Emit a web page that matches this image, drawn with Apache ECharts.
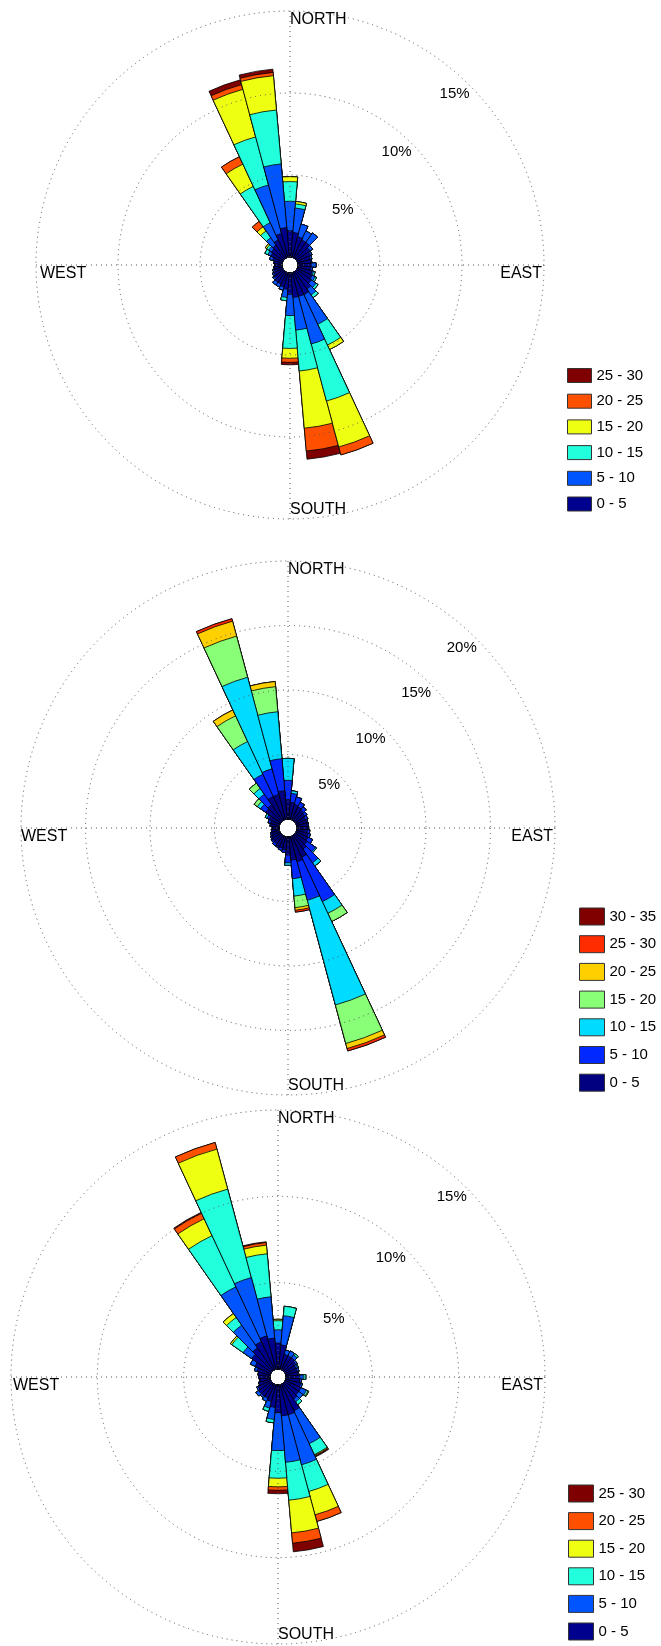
<!DOCTYPE html>
<html><head><meta charset="utf-8">
<script src="https://cdn.jsdelivr.net/npm/echarts@6/dist/echarts.min.js"></script>
<style>html,body{margin:0;padding:0;background:#fff}#c{width:661px;height:1646px}</style>
</head><body><div id="c"></div>
<script>
// Wind direction sectors (bearing, degrees clockwise from north)
const directions = ['0','10','20','30','40','50','60','70','80','90','100','110','120','130','140','150','160','170',
  '180','190','200','210','220','230','240','250','260','270','280','290','300','310','320','330','340','350'];

// ---- Rose 1: cumulative frequency (%) up to the top of each speed bin ----
const rose1Bins = ['0 - 5','5 - 10','10 - 15','15 - 20','20 - 25','25 - 30'];
const r1_0_5   = [1.6,1.5,1.3,1.2,1.2,1.0,0.9,0.8,0.8,0.8,0.8,0.9,1.0,1.1,1.3,1.5,1.5,1.5,1.3,1.0,0.9,0.8,0.8,0.7,0.6,0.5,0.5,0.45,0.5,0.6,0.8,0.9,1.0,1.2,1.5,1.8];
const r1_5_10  = [3.4,3.0,2.1,1.8,1.9,1.2,1.0,0.9,0.85,1.1,0.9,1.0,1.2,1.45,1.75,3.5,4.5,3.5,2.6,1.5,1.1,1.0,1.0,0.8,0.7,0.6,0.5,0.45,0.5,0.8,1.0,1.1,1.55,2.36,4.57,5.7];
const r1_10_15 = [4.6,3.25,2.1,1.8,1.9,1.2,1.0,0.9,0.85,1.1,0.9,1.1,1.3,1.6,1.95,4.9,8.1,6.0,4.6,1.7,1.1,1.0,1.0,0.8,0.7,0.6,0.5,0.45,0.5,0.8,1.2,1.25,2.05,4.8,7.6,9.0];
const r1_15_20 = [4.9,3.4,2.1,1.8,1.9,1.2,1.0,0.9,0.85,1.1,0.9,1.1,1.3,1.6,1.95,5.2,11.0,9.5,5.2,1.7,1.1,1.0,1.0,0.8,0.7,0.6,0.5,0.45,0.5,0.8,1.2,1.35,2.36,6.3,10.6,11.1];
const r1_20_25 = [4.9,3.4,2.1,1.8,1.9,1.2,1.0,0.9,0.85,1.1,0.9,1.1,1.3,1.6,1.95,5.2,11.5,10.9,5.45,1.7,1.1,1.0,1.0,0.8,0.7,0.6,0.5,0.45,0.5,0.8,1.2,1.35,2.77,6.8,10.9,11.3];
const r1_25_30 = [4.9,3.4,2.1,1.8,1.9,1.2,1.0,0.9,0.85,1.1,0.9,1.1,1.3,1.6,1.95,5.2,11.5,11.4,5.6,1.7,1.1,1.0,1.0,0.8,0.7,0.6,0.5,0.45,0.5,0.8,1.2,1.35,2.77,6.8,11.2,11.5];
const rose1Ticks = [5,10,15];

// ---- Rose 2 ----
const rose2Bins = ['0 - 5','5 - 10','10 - 15','15 - 20','20 - 25','25 - 30','30 - 35'];
const r2_0_5   = [1.5,1.3,1.2,1.1,1.0,0.9,0.8,0.8,0.8,0.8,0.8,0.9,1.0,1.1,1.3,1.8,2.0,1.8,1.4,1.0,0.9,0.9,0.8,0.8,0.7,0.6,0.5,0.5,0.6,0.7,0.9,1.4,1.5,2.0,2.0,2.2];
const r2_5_10  = [3.0,2.0,1.8,1.5,1.3,1.1,1.0,0.9,0.9,0.9,1.0,1.1,1.4,1.9,2.6,5.6,5.1,3.25,2.0,1.2,1.1,1.0,1.0,0.9,0.8,0.7,0.6,0.55,0.7,0.9,1.1,1.9,2.5,3.9,4.05,4.7];
const r2_10_15 = [4.7,2.2,1.8,1.5,1.3,1.1,1.0,0.9,0.9,0.9,1.0,1.1,1.4,2.0,2.9,6.6,13.5,4.6,2.2,1.2,1.1,1.0,1.0,0.9,0.8,0.7,0.6,0.55,0.7,0.9,1.25,2.2,3.05,6.7,11.4,8.35];
const r2_15_20 = [4.7,2.2,1.8,1.5,1.3,1.1,1.0,0.9,0.9,0.9,1.0,1.1,1.4,2.0,2.9,7.3,16.6,5.5,2.2,1.2,1.1,1.0,1.0,0.9,0.8,0.7,0.6,0.55,0.7,0.9,1.25,2.5,3.55,8.9,14.7,10.3];
const r2_20_25 = [4.7,2.2,1.8,1.5,1.3,1.1,1.0,0.9,0.9,0.9,1.0,1.1,1.4,2.0,2.9,7.3,17.0,5.7,2.2,1.2,1.1,1.0,1.0,0.9,0.8,0.7,0.6,0.55,0.7,0.9,1.25,2.5,3.55,9.4,15.9,10.7];
const r2_25_30 = [4.7,2.2,1.8,1.5,1.3,1.1,1.0,0.9,0.9,0.9,1.0,1.1,1.4,2.0,2.9,7.3,17.2,5.85,2.2,1.2,1.1,1.0,1.0,0.9,0.8,0.7,0.6,0.55,0.7,0.9,1.25,2.5,3.55,9.4,16.1,10.7];
const r2_30_35 = [4.7,2.2,1.8,1.5,1.3,1.1,1.0,0.9,0.9,0.9,1.0,1.1,1.4,2.0,2.9,7.3,17.2,5.85,2.2,1.2,1.1,1.0,1.0,0.9,0.8,0.7,0.6,0.55,0.7,0.9,1.25,2.5,3.55,9.4,16.1,10.7];
const rose2Ticks = [5,10,15,20];

// ---- Rose 3 ----
const rose3Bins = ['0 - 5','5 - 10','10 - 15','15 - 20','20 - 25','25 - 30'];
const r3_0_5   = [1.5,1.4,0.9,0.9,0.9,0.8,0.7,0.7,0.7,0.8,0.8,0.9,1.0,1.0,1.1,1.7,1.8,1.8,1.6,1.3,1.0,0.9,0.9,0.9,0.8,0.7,0.6,0.65,0.7,0.8,1.0,1.4,1.6,1.8,2.0,1.8];
const r3_5_10  = [2.27,3.1,1.16,1.2,1.1,0.9,0.8,0.8,0.75,1.0,0.9,1.0,1.35,1.3,1.3,3.8,4.8,4.5,3.8,2.0,1.4,1.1,1.0,1.1,0.9,0.7,0.6,0.65,0.7,0.95,1.3,2.0,3.2,5.3,5.5,4.2];
const r3_10_15 = [2.8,3.65,1.16,1.2,1.2,0.9,0.85,0.8,0.75,1.15,0.9,1.0,1.45,1.3,1.5,4.5,6.4,6.7,5.4,2.2,1.6,1.1,1.0,1.1,0.9,0.7,0.6,0.65,0.7,0.95,1.3,2.8,3.75,8.57,10.8,6.7];
const r3_15_20 = [2.88,3.65,1.16,1.2,1.2,0.9,0.85,0.8,0.75,1.15,0.9,1.0,1.5,1.3,1.5,4.55,7.8,8.6,5.9,2.2,1.6,1.1,1.0,1.1,0.9,0.7,0.6,0.65,0.7,0.95,1.3,2.9,4.03,9.65,13.2,7.2];
const r3_20_25 = [2.88,3.65,1.16,1.2,1.2,0.9,0.85,0.8,0.75,1.15,0.9,1.0,1.5,1.3,1.5,4.6,8.2,9.2,6.1,2.2,1.6,1.1,1.0,1.1,0.9,0.7,0.6,0.65,0.7,0.95,1.3,2.9,4.03,10.0,13.6,7.35];
const r3_25_30 = [2.88,3.65,1.16,1.2,1.2,0.9,0.85,0.8,0.75,1.15,0.9,1.0,1.5,1.3,1.5,4.65,8.2,9.7,6.3,2.2,1.6,1.1,1.0,1.1,0.9,0.7,0.6,0.65,0.7,0.95,1.3,2.9,4.03,10.06,13.6,7.4];
const rose3Ticks = [5,10,15];

const compassLabels = ['NORTH','EAST','SOUTH','WEST'];

const FONT = '"Liberation Sans", Arial, Helvetica, sans-serif';
const colors6 = ['#00008F','#0055FF','#22FFDD','#EEFF12','#FF5000','#7F0000'];
const colors7 = ['#000080','#0028FF','#00DCFF','#88FF77','#FFD000','#FF2C00','#800000'];

const roses = [
  {key:'a', center:[290,265], inner:8, outer:254, max:15, ticks:rose1Ticks, bins:rose1Bins, westPad:4,
   data:[r1_0_5,r1_5_10,r1_10_15,r1_15_20,r1_20_25,r1_25_30], colors:colors6,
   legend:{left:567, top:368, w:24, h:14, gap:10.7}},
  {key:'b', center:[288,828], inner:9, outer:267, max:20, ticks:rose2Ticks, bins:rose2Bins, westPad:0,
   data:[r2_0_5,r2_5_10,r2_10_15,r2_15_20,r2_20_25,r2_25_30,r2_30_35], colors:colors7,
   legend:{left:579, top:907.5, w:25, h:17, gap:9.7}},
  {key:'c', center:[278,1377], inner:8, outer:267, max:15, ticks:rose3Ticks, bins:rose3Bins, westPad:2,
   data:[r3_0_5,r3_5_10,r3_10_15,r3_15_20,r3_20_25,r3_25_30], colors:colors6,
   legend:{left:568, top:1484.5, w:25, h:17, gap:9.6}}
];

const polar = [], angleAxis = [], radiusAxis = [], series = [], legend = [], graphic = [];
const gridLine = {color:'#555', type:[1,4], width:1};

roses.forEach((ro, k) => {
  const pb = 2*k, pg = 2*k+1;
  polar.push({center: ro.center, radius:[ro.inner, ro.outer]});
  polar.push({center: ro.center, radius:[ro.inner, ro.outer]});
  angleAxis.push({polarIndex:pb, type:'category', data:directions, startAngle:95, clockwise:true,
    axisLine:{show:false}, axisTick:{show:false}, axisLabel:{show:false}, splitLine:{show:false}});
  radiusAxis.push({polarIndex:pb, type:'value', min:0, max:ro.max,
    axisLine:{show:false}, axisTick:{show:false}, axisLabel:{show:false}, splitLine:{show:false}});
  angleAxis.push({polarIndex:pg, type:'value', min:0, max:360, interval:90, startAngle:90, clockwise:true, z:10,
    axisLine:{show:false}, axisTick:{show:false}, axisLabel:{show:false}, splitLine:{show:true, lineStyle:gridLine}});
  radiusAxis.push({polarIndex:pg, type:'value', min:0, max:ro.max, interval:5, z:10,
    axisLine:{show:false}, axisTick:{show:false}, axisLabel:{show:false}, splitLine:{show:true, lineStyle:gridLine}});
  // bars: draw the largest cumulative first, smaller on top
  for (let b = ro.bins.length - 1; b >= 0; b--) {
    series.push({type:'bar', coordinateSystem:'polar', polarIndex:pb, name: ro.key + '|' + ro.bins[b],
      data: ro.data[b], barGap:'-100%', barCategoryGap:'0%', animation:false, silent:true,
      itemStyle:{color: ro.colors[b], borderColor:'#000', borderWidth:0.8}});
  }
  legend.push({orient:'vertical', left:ro.legend.left, top:ro.legend.top, padding:0,
    itemWidth:ro.legend.w, itemHeight:ro.legend.h, itemGap:ro.legend.gap, icon:'rect',
    selectedMode:false,
    data: ro.bins.slice().reverse().map(n => ro.key + '|' + n),
    formatter: n => n.split('|')[1],
    itemStyle:{borderColor:'#333', borderWidth:1},
    textStyle:{fontFamily:FONT, fontSize:15, color:'#000', padding:[0,0,0,0]}});
  // text labels
  const [cx, cy] = ro.center, R = ro.outer;
  const ts = {fontFamily:FONT, fontSize:16, fill:'#000'};
  graphic.push({type:'text', x:cx, y:cy-R+1, style:Object.assign({text:compassLabels[0], align:'left', verticalAlign:'top'}, ts)});
  graphic.push({type:'text', x:cx+R-2, y:cy+1, style:Object.assign({text:compassLabels[1], align:'right', verticalAlign:'top'}, ts)});
  graphic.push({type:'text', x:cx, y:cy+R-1, style:Object.assign({text:compassLabels[2], align:'left', verticalAlign:'bottom'}, ts)});
  graphic.push({type:'text', x:cx-R+ro.westPad, y:cy+1, style:Object.assign({text:compassLabels[3], align:'left', verticalAlign:'top'}, ts)});
  ro.ticks.forEach(v => {
    const r = ro.inner + (ro.outer - ro.inner) * v / ro.max;
    const a = Math.PI/4;
    graphic.push({type:'text', x: cx + r*Math.sin(a), y: cy - r*Math.cos(a) + 1,
      style:{text: v + '%', align:'right', verticalAlign:'top', fontFamily:FONT, fontSize:15, fill:'#000'}});
  });
});

const chart = echarts.init(document.getElementById('c'), null, {renderer:'canvas'});
chart.setOption({animation:false, backgroundColor:'#fff', polar, angleAxis, radiusAxis, series, legend, graphic});
</script></body></html>
